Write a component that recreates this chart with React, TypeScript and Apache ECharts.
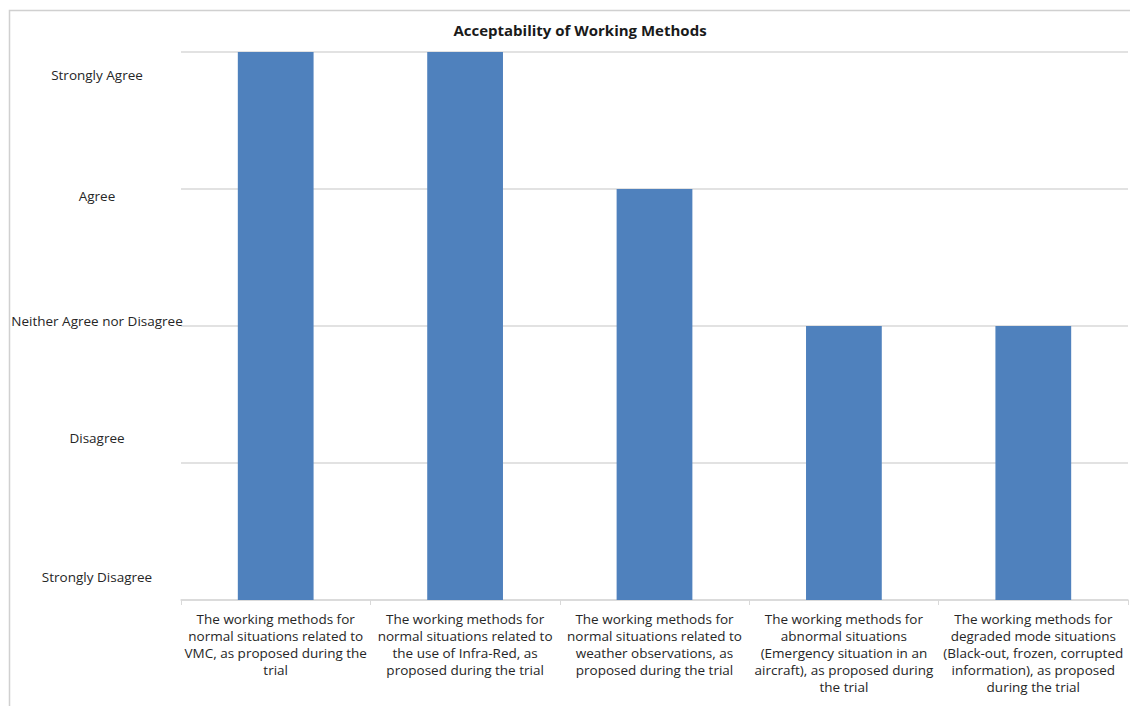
import React, { useEffect, useRef } from "react";
import * as echarts from "echarts";

// Survey statements (each line break is part of the label)
const categories: string[] = [
  "The working methods for\nnormal situations related to\nVMC, as proposed during the\ntrial",
  "The working methods for\nnormal situations related to\nthe use of Infra-Red, as\nproposed during the trial",
  "The working methods for\nnormal situations related to\nweather observations, as\nproposed during the trial",
  "The working methods for\nabnormal situations\n(Emergency situation in an\naircraft), as proposed during\nthe trial",
  "The working methods for\ndegraded mode situations\n(Black-out, frozen, corrupted\ninformation), as proposed\nduring the trial",
];

// Score on the 0..4 agreement scale
const scores: number[] = [4, 4, 3, 2, 2];

// Agreement level names and where each sits on the scale
const levelNames: string[] = [
  "Strongly Agree",
  "Agree",
  "Neither Agree nor Disagree",
  "Disagree",
  "Strongly Disagree",
];
const levelPositions: number[] = [3.83, 2.95, 2.04, 1.18, 0.17];

const FONT = "'Open Sans', 'Liberation Sans', sans-serif";

export default function App() {
  const ref = useRef<HTMLDivElement>(null);

  useEffect(() => {
    if (!ref.current) return;
    const chart = echarts.init(ref.current, null, { renderer: "svg" });
    chart.setOption({
      animation: false,
      backgroundColor: "#ffffff",
      title: {
        text: "Acceptability of Working Methods",
        left: 575,
        top: 17,
        textAlign: "center",
        textStyle: { fontFamily: FONT, fontSize: 15, fontWeight: "bold", color: "#1a1a1a" },
      },
      graphic: [
        {
          type: "rect",
          shape: { x: 9.5, y: 10.5, width: 1300, height: 900 },
          style: { fill: "none", stroke: "#d0d0d0", lineWidth: 1.5 },
          silent: true,
        },
      ],
      grid: { left: 181, right: 2, top: 52, bottom: 106 },
      xAxis: {
        type: "category",
        data: categories,
        axisLine: { lineStyle: { color: "#d9d9d9", width: 1.5 } },
        axisTick: { show: true, alignWithLabel: false, length: 5, lineStyle: { color: "#d9d9d9" } },
        axisLabel: {
          interval: 0,
          margin: 10,
          fontFamily: FONT,
          fontSize: 13.5,
          lineHeight: 17,
          color: "#262626",
          align: "center",
        },
      },
      yAxis: [
        {
          type: "value",
          min: 0,
          max: 4,
          interval: 1,
          axisLine: { show: false },
          axisTick: { show: false },
          axisLabel: { show: false },
          splitLine: { lineStyle: { color: "#d9d9d9", width: 1.5 } },
        },
        {
          type: "value",
          position: "left",
          min: 0,
          max: 4,
          axisLine: { show: false },
          axisTick: { show: false },
          splitLine: { show: false },
          axisLabel: {
            customValues: levelPositions,
            align: "center",
            margin: 84,
            fontFamily: FONT,
            fontSize: 13.5,
            color: "#262626",
            formatter: (v: number) => {
              const i = levelPositions.findIndex((p) => Math.abs(p - v) < 1e-6);
              return i >= 0 ? levelNames[i] : "";
            },
          },
        },
      ],
      series: [
        {
          type: "bar",
          data: scores,
          barWidth: "40%",
          itemStyle: { color: "#4f81bd" },
        },
      ],
    });
    return () => chart.dispose();
  }, []);

  return (
    <div
      ref={ref}
      style={{ position: "fixed", left: 0, top: 0, width: 1130, height: 706, background: "#fff" }}
    />
  );
}
